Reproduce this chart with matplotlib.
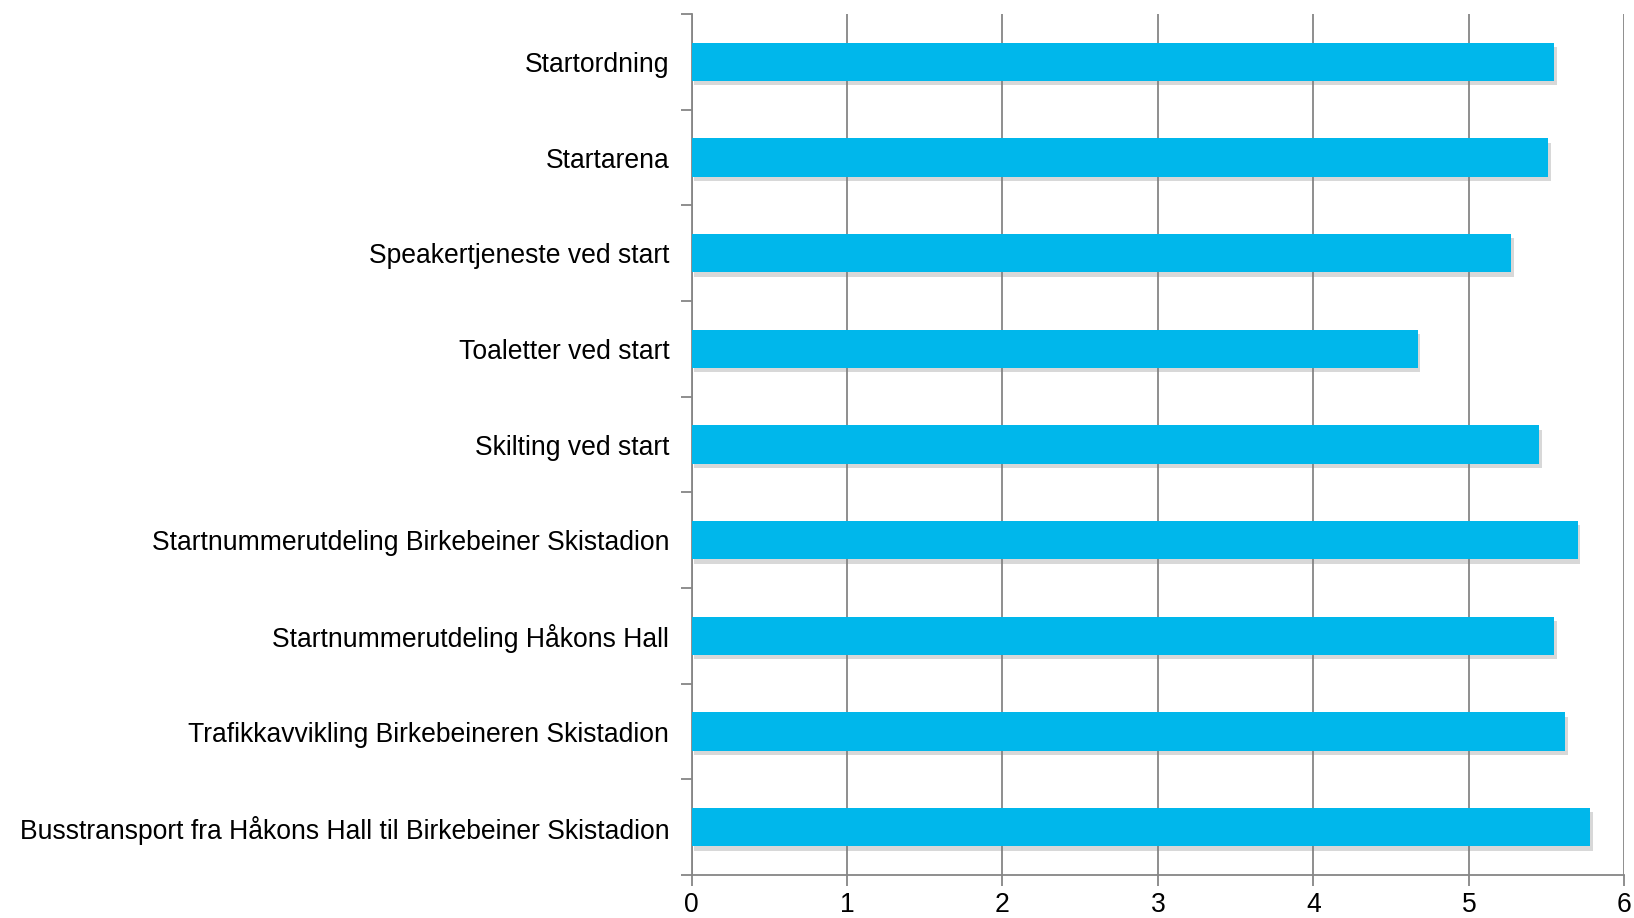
import matplotlib
matplotlib.use("Agg")
import matplotlib.pyplot as plt
import matplotlib.patheffects as pe
import numpy as np

categories = [
    "Startordning",
    "Startarena",
    "Speakertjeneste ved start",
    "Toaletter ved start",
    "Skilting ved start",
    "Startnummerutdeling Birkebeiner Skistadion",
    "Startnummerutdeling Håkons Hall",
    "Trafikkavvikling Birkebeineren Skistadion",
    "Busstransport fra Håkons Hall til Birkebeiner Skistadion",
]
values = [5.55, 5.51, 5.27, 4.67, 5.45, 5.70, 5.55, 5.62, 5.78]
xticks = [0, 1, 2, 3, 4, 5, 6]

plt.rcParams['font.family'] = ['Liberation Sans', 'DejaVu Sans']

fig = plt.figure(figsize=(16.34, 9.18), dpi=100)
ax = fig.add_axes([0.4232, 0.0468, 0.9941 - 0.4232, 0.9847 - 0.0468])

y = np.arange(len(categories))
bars = ax.barh(y, values, height=0.40, color="#00B7EB", zorder=3)
for b in bars:
    b.set_path_effects([pe.SimplePatchShadow(offset=(2, -3), shadow_rgbFace="#808080", alpha=0.3),
                        pe.Normal()])

ax.set_ylim(len(categories) - 0.5, -0.5)
ax.set_xlim(0, 6)
ax.set_xticks(xticks)
ax.set_xticklabels([str(t) for t in xticks])
ax.set_yticks(y)
ax.set_yticklabels(categories)
ax.set_yticks(np.arange(-0.5, len(categories), 1.0), minor=True)

gc = "#868686"
ax.xaxis.grid(True, color=gc, linewidth=1.3, zorder=0)
ax.yaxis.grid(False)
for s in ["top", "right"]:
    ax.spines[s].set_visible(False)
for s in ["left", "bottom"]:
    ax.spines[s].set_color(gc)
    ax.spines[s].set_linewidth(1.3)

ax.tick_params(axis="y", which="major", length=0, pad=16, labelsize=19.1, labelcolor="black")
ax.tick_params(axis="y", which="minor", length=8, width=1.3, color=gc, direction="out")
ax.tick_params(axis="x", which="major", length=8, width=1.3, color=gc, direction="out",
               pad=4, labelsize=19.1, labelcolor="black")

fig.savefig("out.png", dpi=100, facecolor="white")
